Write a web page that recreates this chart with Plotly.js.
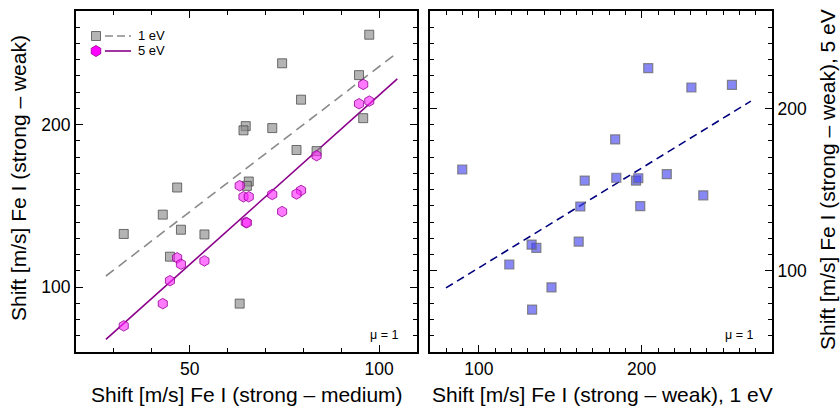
<!DOCTYPE html>
<html>
<head>
<meta charset="utf-8">
<script src="https://cdn.plot.ly/plotly-3.0.1.min.js"></script>
<style>
  html, body { margin: 0; padding: 0; background: #fff; }
  #chart { width: 840px; height: 407px; }
</style>
</head>
<body>
<div id="chart"></div>
<script>
// Line shifts of Fe I lines (m/s), one entry per line pair
const strongMinusMedium = [97.4, 74.4, 94.7, 79.4, 95.8, 64.8, 64.2, 71.8, 78.2, 83.5, 65.6, 65.1, 46.7, 42.9, 32.6, 47.7, 53.9, 44.8, 63.2];
const strongMinusWeak1eV = [255.4, 237.8, 230.5, 215.4, 204.0, 199.1, 196.5, 197.9, 184.4, 183.7, 165.0, 162.3, 161.3, 144.6, 132.7, 135.3, 132.4, 118.7, 89.8];
const strongMinusWeak5eV = [214.5, 146.5, 212.9, 159.5, 224.8, 139.8, 155.6, 157.0, 157.3, 180.9, 155.6, 139.6, 118.0, 89.8, 76.1, 114.1, 116.1, 103.9, 162.4];

// x extent of the fitted lines in each panel
const fitSpanLeft = [27.9, 104.8];
const fitSpanRight = [79.8, 267.0];

const legendLabels = ['1 eV', '5 eV'];
const muLabel = 'μ = 1';

// ordinary least squares fit y = a + b x
function linFit(xs, ys) {
  const n = xs.length;
  const mx = xs.reduce((s, v) => s + v, 0) / n;
  const my = ys.reduce((s, v) => s + v, 0) / n;
  let sxy = 0, sxx = 0;
  for (let i = 0; i < n; i++) {
    sxy += (xs[i] - mx) * (ys[i] - my);
    sxx += (xs[i] - mx) * (xs[i] - mx);
  }
  const b = sxy / sxx;
  return { a: my - b * mx, b: b };
}
function fitLine(xs, ys, span) {
  const f = linFit(xs, ys);
  return { x: span, y: span.map(v => f.a + f.b * v) };
}

const fit1 = fitLine(strongMinusMedium, strongMinusWeak1eV, fitSpanLeft);
const fit5 = fitLine(strongMinusMedium, strongMinusWeak5eV, fitSpanLeft);
const fitR = fitLine(strongMinusWeak1eV, strongMinusWeak5eV, fitSpanRight);

const FONT = 'Liberation Sans, Arial, Helvetica, sans-serif';
const TITLE_SIZE = 21;

const gray = { fill: 'rgba(140,140,140,0.65)', edge: 'rgba(70,70,70,0.75)', line: '#8a8a8a' };
const mag = { fill: 'rgba(255,40,255,0.62)', edge: 'rgba(150,0,150,0.8)', line: '#8b008b' };
const blue = { fill: 'rgba(70,70,240,0.65)', edge: 'rgba(110,110,110,0.8)', line: '#00007f' };

const traces = [
  { x: fit1.x, y: fit1.y, xaxis: 'x', yaxis: 'y', mode: 'lines',
    line: { color: gray.line, width: 1.6, dash: '10px,6px' }, hoverinfo: 'skip' },
  { x: fit5.x, y: fit5.y, xaxis: 'x', yaxis: 'y', mode: 'lines',
    line: { color: mag.line, width: 1.6 }, hoverinfo: 'skip' },
  { x: strongMinusMedium, y: strongMinusWeak1eV, xaxis: 'x', yaxis: 'y', mode: 'markers', name: legendLabels[0],
    marker: { symbol: 'square', size: 9, color: gray.fill, line: { color: gray.edge, width: 1 } } },
  { x: strongMinusMedium, y: strongMinusWeak5eV, xaxis: 'x', yaxis: 'y', mode: 'markers', name: legendLabels[1],
    marker: { symbol: 'hexagon', size: 10.5, color: mag.fill, line: { color: mag.edge, width: 1 } } },
  { x: fitR.x, y: fitR.y, xaxis: 'x2', yaxis: 'y2', mode: 'lines',
    line: { color: blue.line, width: 1.6, dash: '8px,5px' }, hoverinfo: 'skip' },
  { x: strongMinusWeak1eV, y: strongMinusWeak5eV, xaxis: 'x2', yaxis: 'y2', mode: 'markers',
    marker: { symbol: 'square', size: 9, color: blue.fill, line: { color: blue.edge, width: 1.2 } } }
];

function axisBase(range, dtick) {
  return {
    range: range, dtick: dtick, tick0: 0,
    ticks: 'inside', ticklen: 7, tickwidth: 1, tickcolor: '#000',
    minor: { ticks: 'inside', dtick: 10, ticklen: 4, tickwidth: 1, tickcolor: '#000', showgrid: false },
    showline: true, linewidth: 2, linecolor: '#000', mirror: 'allticks',
    showgrid: false, zeroline: false, fixedrange: true,
    tickfont: { family: FONT, size: 17.5, color: '#000' }
  };
}

const W = 840, H = 407;
const px = v => v / W, py = v => 1 - v / H;

// legend glyphs: square and hexagon beside the line samples
const lx = 96, ly1 = 36, ly2 = 51;
function hexPath(cx, cy, r) {
  const pts = [];
  for (let k = 0; k < 6; k++) {
    const ang = Math.PI / 2 + k * Math.PI / 3;
    pts.push([px(cx + r * Math.cos(ang)), py(cy - r * Math.sin(ang))]);
  }
  return 'M' + pts.map(p => p[0] + ',' + p[1]).join('L') + 'Z';
}

const shapes = [
  { type: 'rect', xref: 'paper', yref: 'paper', x0: px(lx - 4.5), x1: px(lx + 4.5), y0: py(ly1 + 4.5), y1: py(ly1 - 4.5),
    fillcolor: gray.fill, line: { color: gray.edge, width: 1 } },
  { type: 'line', xref: 'paper', yref: 'paper', x0: px(105), x1: px(131), y0: py(ly1), y1: py(ly1),
    line: { color: gray.line, width: 1.6, dash: '8px,4px' } },
  { type: 'path', xref: 'paper', yref: 'paper', path: hexPath(lx, ly2, 5.5),
    fillcolor: 'rgba(255,0,255,1)', line: { color: mag.edge, width: 1 } },
  { type: 'line', xref: 'paper', yref: 'paper', x0: px(105), x1: px(131), y0: py(ly2), y1: py(ly2),
    line: { color: mag.line, width: 1.6 } }
];

function title(text, x, y, angle) {
  return { text: text, xref: 'paper', yref: 'paper', x: px(x), y: py(y), xanchor: 'center', yanchor: 'middle',
    textangle: angle, showarrow: false, font: { family: FONT, size: TITLE_SIZE, color: '#000' } };
}

const annotations = [
  { text: legendLabels[0], xref: 'paper', yref: 'paper', x: px(136), y: py(ly1), xanchor: 'left', yanchor: 'middle',
    showarrow: false, font: { family: FONT, size: 13, color: '#000' } },
  { text: legendLabels[1], xref: 'paper', yref: 'paper', x: px(136), y: py(ly2), xanchor: 'left', yanchor: 'middle',
    showarrow: false, font: { family: FONT, size: 13, color: '#000' } },
  { text: muLabel, xref: 'paper', yref: 'paper', x: px(400), y: py(335), xanchor: 'right', yanchor: 'middle',
    showarrow: false, font: { family: FONT, size: 12.5, color: '#000' } },
  { text: muLabel, xref: 'paper', yref: 'paper', x: px(755), y: py(335), xanchor: 'right', yanchor: 'middle',
    showarrow: false, font: { family: FONT, size: 12.5, color: '#000' } },
  title('Shift [m/s] Fe I (strong – medium)', 246.5, 394, 0),
  title('Shift [m/s] Fe I (strong – weak), 1 eV', 602, 394, 0),
  title('Shift [m/s] Fe I (strong – weak)', 19, 178, -90),
  title('Shift [m/s] Fe I (strong – weak), 5 eV', 827, 180, -90)
];

const layout = {
  width: W, height: H,
  margin: { l: 0, r: 0, t: 0, b: 0 },
  paper_bgcolor: '#fff', plot_bgcolor: '#fff',
  showlegend: false,
  xaxis: Object.assign(axisBase([20, 110], 50), { domain: [px(76), px(417)], anchor: 'y' }),
  yaxis: Object.assign(axisBase([60, 270], 100), { domain: [py(352), py(11)], anchor: 'x' }),
  xaxis2: Object.assign(axisBase([70, 280], 100), { domain: [px(430), px(772)], anchor: 'y2' }),
  yaxis2: Object.assign(axisBase([50, 260], 100), { domain: [py(352), py(11)], anchor: 'x2', side: 'right' }),
  shapes: shapes,
  annotations: annotations
};

Plotly.newPlot('chart', traces, layout, { displayModeBar: false, staticPlot: true });
</script>
</body>
</html>
